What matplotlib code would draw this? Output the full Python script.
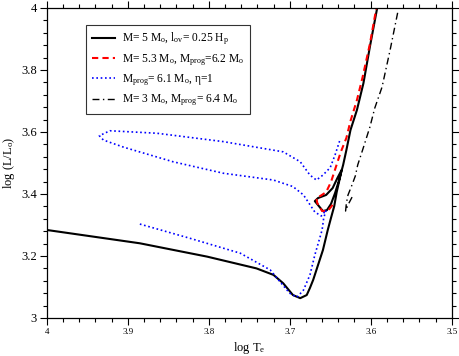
import matplotlib
matplotlib.use("Agg")
import matplotlib.pyplot as plt
from matplotlib.ticker import FixedLocator, MultipleLocator

plt.rcParams['font.family'] = ['Liberation Serif', 'DejaVu Serif']
plt.rcParams['mathtext.fontset'] = 'custom'
plt.rcParams['mathtext.rm'] = 'Liberation Serif'
plt.rcParams['mathtext.it'] = 'Liberation Serif:italic'

# --- data (log Te, log L/Lsun) ---
black_te = [4.000, 3.885, 3.802, 3.741, 3.720, 3.708, 3.696, 3.687, 3.679, 3.675, 3.671,
            3.665, 3.659, 3.653, 3.649, 3.645, 3.642, 3.638, 3.636, 3.641, 3.647, 3.655,
            3.665, 3.669, 3.664, 3.659, 3.654, 3.649, 3.644, 3.639, 3.634, 3.630, 3.625,
            3.617, 3.609, 3.601, 3.592]
black_l = [3.284, 3.241, 3.198, 3.160, 3.139, 3.112, 3.074, 3.064, 3.074, 3.097, 3.123,
           3.171, 3.219, 3.284, 3.323, 3.361, 3.406, 3.452, 3.477, 3.452, 3.419, 3.397,
           3.387, 3.377, 3.361, 3.345, 3.348, 3.368, 3.403, 3.445, 3.494, 3.542, 3.606,
           3.671, 3.757, 3.875, 4.000]

red_te = [3.647, 3.653, 3.660, 3.666, 3.667, 3.662, 3.655, 3.649, 3.643, 3.637, 3.630,
          3.625, 3.617, 3.610, 3.601, 3.593]
red_l = [3.365, 3.345, 3.345, 3.371, 3.387, 3.394, 3.406, 3.439, 3.487, 3.535, 3.581,
         3.635, 3.703, 3.777, 3.884, 4.000]

blue_te = [3.885, 3.823, 3.761, 3.724, 3.712, 3.700, 3.691, 3.683, 3.675, 3.669, 3.660,
           3.658, 3.655, 3.661, 3.669, 3.683, 3.696, 3.720, 3.782, 3.844, 3.905, 3.930,
           3.935, 3.922, 3.864, 3.782, 3.708, 3.687, 3.675, 3.667, 3.659, 3.650, 3.644,
           3.638]
blue_l = [3.303, 3.257, 3.209, 3.155, 3.117, 3.080, 3.067, 3.090, 3.139, 3.203, 3.284,
          3.323, 3.348, 3.329, 3.342, 3.397, 3.424, 3.445, 3.467, 3.504, 3.551, 3.574,
          3.588, 3.604, 3.596, 3.569, 3.536, 3.504, 3.461, 3.445, 3.461, 3.485, 3.526,
          3.574]

dd_te = [3.623, 3.628, 3.631, 3.630, 3.628, 3.624, 3.619, 3.616, 3.610, 3.601, 3.595,
         3.586, 3.576, 3.566]
dd_l = [3.390, 3.365, 3.345, 3.371, 3.397, 3.423, 3.458, 3.494, 3.542, 3.616, 3.677,
        3.745, 3.865, 3.994]

labels = [r"M= 5 M$_{\mathrm{o}}$, l$_{\mathrm{ov}}$= 0.25 H$_{\mathrm{p}}$",
          r"M= 5.3 M$_{\mathrm{o}}$, M$_{\mathrm{prog}}$=6.2 M$_{\mathrm{o}}$",
          r"M$_{\mathrm{prog}}$= 6.1 M$_{\mathrm{o}}$, η=1",
          r"M= 3 M$_{\mathrm{o}}$, M$_{\mathrm{prog}}$= 6.4 M$_{\mathrm{o}}$"]

xticks = [4.0, 3.9, 3.8, 3.7, 3.6, 3.5]
xticklabels = ["4", "3.9", "3.8", "3.7", "3.6", "3.5"]
yticks = [3.0, 3.2, 3.4, 3.6, 3.8, 4.0]
yticklabels = ["3", "3.2", "3.4", "3.6", "3.8", "4"]

fig = plt.figure(figsize=(4.6, 3.56), dpi=100)
ax = fig.add_axes([46.7/460, 1-318/356, (451.7-46.7)/460, 310/356])

ax.plot(black_te, black_l, color='black', lw=1.5, label=labels[0])
ax.plot(red_te, red_l, color='#ff0000', lw=1.5, linestyle=(0, (3, 2)), label=labels[1])
ax.plot(blue_te, blue_l, color='#0000ff', lw=1.2, linestyle=(0, (1, 1.6)), label=labels[2])
ax.plot(dd_te, dd_l, color='black', lw=1.0, linestyle=(0, (5, 2.5, 1, 2.5)), label=labels[3])

ax.set_xlim(4.0, 3.5)
ax.set_ylim(3.0, 4.0)
ax.xaxis.set_major_locator(FixedLocator(xticks))
ax.set_xticklabels(xticklabels, fontsize=6.5)
ax.xaxis.set_minor_locator(MultipleLocator(0.02))
ax.yaxis.set_major_locator(FixedLocator(yticks))
ax.set_yticklabels(yticklabels, fontsize=9)
ax.yaxis.set_minor_locator(MultipleLocator(0.04))
ax.tick_params(which='both', direction='out', top=True, right=True, width=0.8)
ax.tick_params(which='major', length=5)
ax.tick_params(which='minor', length=3)
ax.tick_params(axis='x', pad=2)
ax.tick_params(axis='y', pad=2)
for s in ax.spines.values():
    s.set_linewidth(0.9)

ax.set_xlabel(r"log T$_{\mathrm{e}}$", fontsize=9, labelpad=3)
ax.set_ylabel(r"log (L/L$_{\mathrm{o}}$)", fontsize=9, labelpad=3)

leg = ax.legend(loc='upper left', bbox_to_anchor=((86-46.7)/405, 1-(25-8)/310),
                borderaxespad=0, fontsize=8.3, frameon=True, fancybox=False,
                edgecolor='black', handlelength=2.0, handletextpad=0.6,
                borderpad=0.5, labelspacing=0.4)
leg.get_frame().set_linewidth(0.8)

fig.savefig("out.png", dpi=100)
